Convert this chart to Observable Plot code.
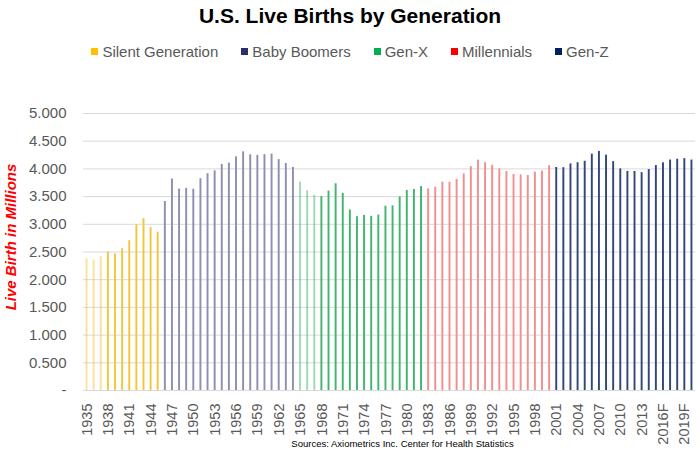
<!DOCTYPE html>
<html>
<head>
<meta charset="utf-8">
<script src="https://cdn.jsdelivr.net/npm/d3@7"></script>
<script src="https://cdn.jsdelivr.net/npm/@observablehq/plot@0.6"></script>
<style>
  body { margin: 0; background: #fff; font-family: "Liberation Sans", Arial, sans-serif; }
  #wrap { width: 700px; height: 454px; overflow: hidden; }
  #title { height: 32px; line-height: 32px; text-align: center; font-weight: bold; font-size: 21px; color: #000; }
  #legend { height: 36px; display: flex; justify-content: center; align-items: center; font-size: 15px; color: #595959; gap: 23px; padding-top: 2px; box-sizing: border-box; }
  .item { display: flex; align-items: center; gap: 4px; }
  .sw { width: 7px; height: 7px; display: inline-block; }
</style>
</head>
<body>
<div id="wrap">
  <div id="title"></div>
  <div id="legend"></div>
  <div id="chart"></div>
</div>
<script>
// ---- data (births in thousands) ----
const titleText = "U.S. Live Births by Generation";
const yTitle = "Live Birth in Millions";
const caption = "Sources: Axiometrics Inc. Center for Health Statistics";

const generations = ["Silent Generation", "Baby Boomers", "Gen-X", "Millennials", "Gen-Z"];
const startYears = [1935, 1946, 1965, 1983, 2001];

const silentBirths = [2377, 2355, 2413, 2496, 2466, 2559, 2703, 2989, 3104, 2939, 2858];
const boomerBirths = [3411, 3817, 3637, 3649, 3632, 3823, 3913, 3965, 4078, 4104, 4218, 4308, 4255, 4245, 4258, 4268, 4167, 4098, 4027];
const genXBirths = [3760, 3606, 3521, 3502, 3600, 3731, 3556, 3258, 3137, 3160, 3144, 3168, 3327, 3333, 3494, 3612, 3629, 3681];
const millennialBirths = [3639, 3669, 3761, 3757, 3809, 3910, 4041, 4158, 4111, 4065, 4000, 3953, 3900, 3891, 3881, 3942, 3959, 4059];
const genZBirths = [4026, 4022, 4090, 4112, 4138, 4266, 4316, 4248, 4131, 4000, 3954, 3953, 3932, 3988, 4060, 4110, 4160, 4175, 4185, 4160];

const xTickLabels = ["1935","1938","1941","1944","1947","1950","1953","1956","1959","1962","1965","1968","1971","1974","1977","1980","1983","1986","1989","1992","1995","1998","2001","2004","2007","2010","2013","2016F","2019F"];
const yTicks = [0, 500, 1000, 1500, 2000, 2500, 3000, 3500, 4000, 4500, 5000];

// ---- styles ----
const legendColors = ["#ffc000", "#2e2e6b", "#00b050", "#ff0000", "#002060"];
const barColors = ["#f4c53a", "#8e8eb0", "#3fb56e", "#f28e8e", "#32467a"];
const fadeCount = [3, 0, 3, 0, 0];

// ---- build table ----
const series = [silentBirths, boomerBirths, genXBirths, millennialBirths, genZBirths];
const data = [];
series.forEach((vals, g) => {
  vals.forEach((v, i) => data.push({year: startYears[g] + i, births: v, gen: g, idx: i}));
});
const years = data.map(d => d.year);
const tickYears = xTickLabels.map(s => parseInt(s));
const tickLabelMap = new Map(tickYears.map((y, i) => [y, xTickLabels[i]]));

// ---- header ----
document.getElementById("title").textContent = titleText;
const legend = document.getElementById("legend");
generations.forEach((name, g) => {
  const it = document.createElement("span");
  it.className = "item";
  const sw = document.createElement("span");
  sw.className = "sw";
  sw.style.background = legendColors[g];
  const tx = document.createElement("span");
  tx.textContent = name;
  it.appendChild(sw); it.appendChild(tx);
  legend.appendChild(it);
});

// ---- chart ----
const chart = Plot.plot({
  width: 700,
  height: 386,
  marginLeft: 83,
  marginRight: 5,
  marginTop: 45,
  marginBottom: 64,
  style: {fontFamily: "'Liberation Sans', Arial, sans-serif", color: "#595959", background: "#fff"},
  x: {type: "band", domain: years, padding: 0, round: false},
  y: {domain: [0, 5000]},
  marks: [
    Plot.gridY(yTicks.filter(t => t > 0), {stroke: "#d9d9d9", strokeOpacity: 1, strokeWidth: 1}),
    Plot.barY(data, {
      x: "year", y: "births",
      fill: d => barColors[d.gen],
      fillOpacity: d => d.idx < fadeCount[d.gen] ? 0.5 : 1,
      insetLeft: 2.6, insetRight: 2.6
    }),
    Plot.ruleY([0], {stroke: "#d9d9d9", strokeWidth: 1}),
    Plot.axisY({ticks: yTicks, tickSize: 0, tickPadding: 17, fontSize: 15, label: null,
      tickFormat: d => d === 0 ? "-" : (d / 1000).toFixed(3)}),
    Plot.axisX({ticks: tickYears, tickSize: 0, tickPadding: 13, tickRotate: -90, fontSize: 14.5,
      tickFormat: d => tickLabelMap.get(d), label: null}),
    Plot.text([yTitle], {frameAnchor: "left", textAnchor: "middle", rotate: -90, dx: -72, dy: -15, fill: "#ff0000",
      fontWeight: "bold", fontStyle: "italic", fontSize: 15}),
    Plot.text([caption], {frameAnchor: "bottom", dy: 56, dx: 13, fontSize: 9.5, fill: "#000"})
  ]
});
document.getElementById("chart").appendChild(chart);
</script>
</body>
</html>
